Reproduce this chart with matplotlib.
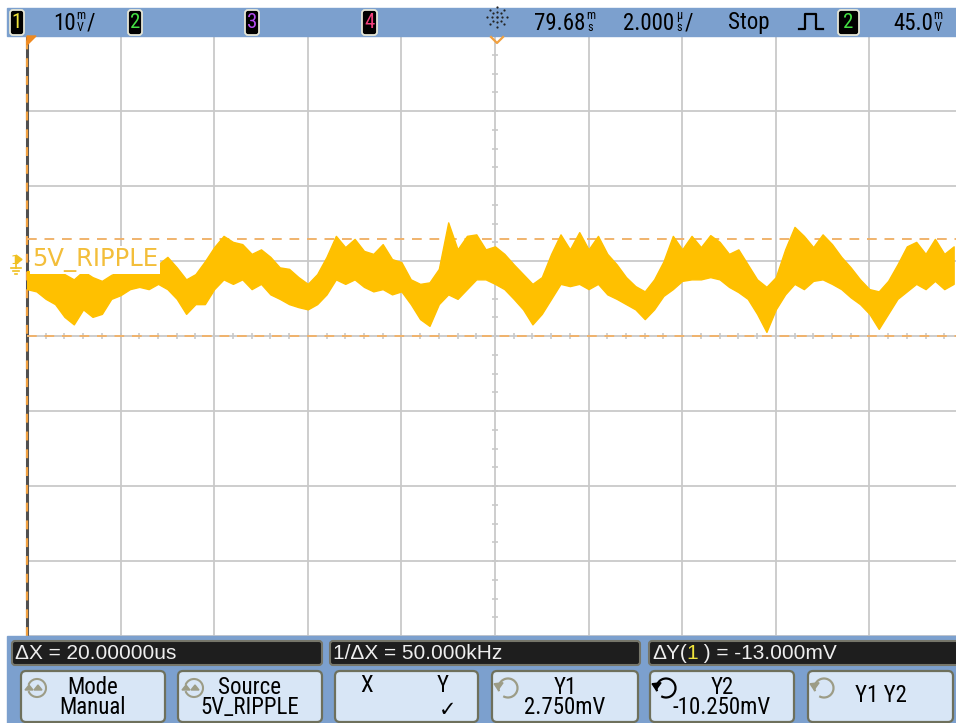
import numpy as np
import matplotlib
matplotlib.use("Agg")
import matplotlib.pyplot as plt
from matplotlib import patches
from matplotlib import font_manager as fm

# ------------------------------------------------------------------ data
# oscilloscope settings (as shown on screen)
volts_per_div_mV = 10.0
time_per_div_us = 2.0
offset_mV = -10.25            # level at screen centre
cursor_x1_us = -10.0
cursor_y1_mV = 2.75
cursor_y2_mV = -10.25

# trace envelope (upper / lower extent of the noisy ripple), one value every 0.2 us
trace_start_us = -10.0
trace_step_us = 0.2
trace_top_mV = [
    -1.6, -1.6, -2.0, -1.3, -2.0, -2.7, -1.6, -2.4, -2.9, -2.1,
    -1.6, -1.6, -1.6, -1.3, -0.7, 0.3, -1.1, -2.7, -2.0, -0.3,
    1.6, 3.1, 2.3, 2.0, 0.7, 1.3, 0.3, -1.1, -1.3, -2.4,
    -3.3, -2.0, 0.3, 3.1, 1.6, 2.7, 1.1, 0.7, 2.0, 0.0,
    -0.4, -2.7, -3.3, -3.1, -1.3, 4.9, 1.3, 3.1, 3.3, 1.3,
    1.7, 0.7, -0.7, -2.0, -3.3, -2.4, 0.7, 3.3, 1.3, 3.6,
    1.3, 3.1, 0.7, -0.7, -2.4, -3.6, -4.3, -2.7, -0.3, 3.1,
    1.3, 3.1, 1.6, 3.2, 2.3, 0.7, 1.3, -0.7, -2.7, -3.7,
    -2.4, 1.3, 4.3, 3.1, 1.6, 3.3, 2.0, 0.3, -1.1, -2.7,
    -4.0, -4.3, -2.9, -0.7, 1.7, 2.3, 0.7, 2.7, 0.7, 1.7,
]
trace_bottom_mV = [
    -4.0, -4.3, -5.3, -6.0, -7.7, -8.7, -6.7, -7.7, -7.3, -5.3,
    -4.8, -4.0, -3.7, -4.0, -3.3, -4.0, -5.3, -7.3, -6.0, -6.0,
    -4.0, -2.7, -3.3, -2.7, -4.0, -3.3, -4.7, -5.3, -6.0, -6.4,
    -6.7, -6.0, -4.7, -2.7, -3.3, -2.7, -3.7, -4.3, -4.0, -4.7,
    -4.3, -6.0, -8.0, -8.9, -6.0, -4.7, -5.3, -4.0, -2.7, -2.7,
    -3.3, -4.0, -5.3, -6.7, -8.7, -7.3, -5.3, -3.3, -3.6, -3.3,
    -4.0, -3.3, -4.7, -5.3, -6.0, -6.7, -8.0, -6.7, -4.9, -4.0,
    -2.9, -2.7, -2.7, -2.4, -2.7, -3.7, -4.4, -5.3, -7.3, -9.7,
    -6.7, -4.7, -3.3, -4.0, -2.9, -2.7, -3.3, -4.0, -5.1, -6.0,
    -7.3, -9.3, -7.3, -5.3, -4.3, -3.3, -4.0, -2.9, -4.0, -3.3,
]
time_us = trace_start_us + trace_step_us * np.arange(len(trace_top_mV))

channel_label = "5V_RIPPLE"
scale_text = "10"
delay_text = "79.68"
timebase_text = "2.000"
run_state = "Stop"
trigger_level_text = "45.0"
measure_dx = "\u0394X = 20.00000us"
measure_inv_dx = "1/\u0394X = 50.000kHz"
measure_dy_value = " ) = -13.000mV"
softkey_labels = [("Mode", "Manual"), ("Source", "5V_RIPPLE"), ("X", "Y"),
                  ("Y1", "2.750mV"), ("Y2", "-10.250mV"), ("Y1 Y2", "")]

# ------------------------------------------------------------------ fonts
avail = {f.name for f in fm.fontManager.ttflist}
def pick(*names, default="DejaVu Sans"):
    for n in names:
        if n in avail:
            return n
    return default

REG = pick("Liberation Sans", "Arial", "Roboto")
NAR = pick("Liberation Sans Narrow", "Arial Narrow", "Roboto Condensed", default=None)
ns = 1.0
if NAR is None:
    NAR = pick("Roboto", "Liberation Sans")
    ns = 0.86

# ------------------------------------------------------------------ figure
W, H = 956, 723
fig = plt.figure(figsize=(W / 100, H / 100), dpi=100)
fig.patch.set_facecolor("white")

BLUE = "#7CA0CE"
GRID = "#C9C9C9"
TRACE = "#FFC000"
CURSOR = "#F0B36C"

# scope graticule axes
ax = fig.add_axes([27 / W, 1 - 636 / H, 936 / W, 600 / H], zorder=1)
ax.set_xlim(-5 * time_per_div_us, 5 * time_per_div_us)
ax.set_ylim(offset_mV - 4 * volts_per_div_mV, offset_mV + 4 * volts_per_div_mV)
ax.axis("off")
for i in range(-5, 6):
    ax.axvline(i * time_per_div_us, color=GRID, lw=1.3, zorder=1, clip_on=False)
for j in range(-4, 5):
    ax.axhline(offset_mV + j * volts_per_div_mV, color=GRID, lw=1.3, zorder=1, clip_on=False)
mx = np.arange(-5 * time_per_div_us, 5 * time_per_div_us + 1e-9, time_per_div_us / 5)
ax.vlines(mx, offset_mV - 0.4, offset_mV + 0.4, color=GRID, lw=1.2, zorder=1)
my = offset_mV + np.arange(-4 * volts_per_div_mV, 4 * volts_per_div_mV + 1e-9, volts_per_div_mV / 4)
ax.hlines(my, -0.065, 0.065, color=GRID, lw=1.2, zorder=1)

# cursors
ax.axvline(cursor_x1_us, color="#505050", lw=2.2, zorder=2, clip_on=False)
ax.axvline(cursor_x1_us, color="#F0A040", lw=1.6, ls=(0, (4, 4)), zorder=3, clip_on=False)
ax.axhline(cursor_y1_mV, color=CURSOR, lw=1.4, ls=(0, (5, 4)), zorder=3)
ax.axhline(cursor_y2_mV, color=CURSOR, lw=1.4, ls=(0, (5, 4)), zorder=3)

# trace
ax.fill_between(time_us, trace_bottom_mV, trace_top_mV, color=TRACE, lw=1.0,
                ec=TRACE, zorder=4)

# ------------------------------------------------------------------ overlay (pixel coords)
ov = fig.add_axes([0, 0, 1, 1], zorder=5)
ov.set_xlim(0, W)
ov.set_ylim(H, 0)
ov.axis("off")
renderer = fig.canvas.get_renderer()

def txt(x, y, s, size, color="black", ha="left", va="center", family=None, **kw):
    return ov.text(x, y, s, fontsize=size, color=color, ha=ha, va=va,
                   family=family or NAR, **kw)

def chain(x, y, parts, size, family=None):
    for s, c in parts:
        t = txt(x, y, s, size, color=c, family=family)
        x += t.get_window_extent(renderer).width
    return x

def stacked(x, top, bot, size=8.8):
    txt(x, 21.5, top + "\n" + bot, size * ns, ha="center", linespacing=0.82,
        multialignment="center")

# top status bar
ov.add_patch(patches.Rectangle((7, 8), W - 7, 28, color=BLUE, zorder=0))
ov.add_patch(patches.Rectangle((7, 636), W - 7, H - 636, color=BLUE, zorder=0))

def chbox(x0, x1, digit, color):
    ov.add_patch(patches.FancyBboxPatch((x0, 10), x1 - x0, 25,
                 boxstyle="round,pad=0,rounding_size=3", fc="black",
                 ec="#E6E6D6", lw=1.3))
    txt((x0 + x1) / 2, 23, digit, 15 * ns, color=color, ha="center")

chbox(10, 24, "1", "#F0E43C")
chbox(128, 142, "2", "#44E044")
chbox(245, 259, "3", "#B44CF0")
chbox(362, 377, "4", "#F0407C")
chbox(838, 859, "2", "#44E044")

TB = 16.5 * ns
x = chain(53, 23, [(scale_text, "black")], TB)
stacked(x + 5, "m", "V")
txt(x + 11, 23, "/", TB)

x = chain(534, 23, [(delay_text, "black")], TB)
stacked(x + 5, "m", "s")
x = chain(623, 23, [(timebase_text, "black")], TB)
stacked(x + 5, "\u03bc", "s")
txt(x + 11, 23, "/", TB)
txt(728, 23, run_state, TB)
x = chain(893, 23, [(trigger_level_text, "black")], TB)
stacked(x + 5, "m", "V")

# run/stop "sun" icon
for ang in np.arange(0, 360, 45):
    a = np.deg2rad(ang)
    for r in (5, 10):
        ov.plot(497 + r * np.cos(a), 17 + r * np.sin(a), "o", ms=1.6, mew=0,
                color="#222222")
ov.plot(497, 17, "o", ms=1.8, mew=0, color="#222222")
# trigger edge icon
ov.plot([799, 805, 805, 816, 816, 823], [29, 29, 14, 14, 29, 29], color="black", lw=1.6)

# graticule markers
ov.add_patch(patches.Polygon([(27, 36), (36, 36), (27, 45)], color="#F08A20"))
ov.plot([491, 497, 503], [37, 43, 37], color="#F0A040", lw=1.6)

# ground reference marker and channel label
txt(10.5, 260, "1", 9.5, color="#F0C020", family="DejaVu Sans")
ov.add_patch(patches.Polygon([(16, 255), (22, 259.5), (16, 264)], color="#F0C020"))
ov.plot([16, 16], [262, 268], color="#F0C020", lw=1.2)
ov.plot([11, 21], [268, 268], color="#F0C020", lw=1.2)
ov.plot([13, 19], [271, 271], color="#F0C020", lw=1.2)
ov.plot([15, 17], [274, 274], color="#F0C020", lw=1.2)
txt(32, 260, channel_label, 17.5, color="#F3BE3A", family="DejaVu Sans",
    bbox=dict(fc="white", ec="none", pad=1.5))

# ------------------------------------------------------------------ measurement bars
def bar(x0, x1):
    ov.add_patch(patches.FancyBboxPatch((x0, 641), x1 - x0, 24,
                 boxstyle="round,pad=0,rounding_size=3", fc="#1E1E1E",
                 ec="#76766A", lw=1.5))

bar(12, 322)
bar(330, 640)
bar(649, 975)
MS = 15
WHITE = "#EEEEEE"
txt(15, 653.5, measure_dx, MS, color=WHITE, family=REG)
txt(333, 653.5, measure_inv_dx, MS, color=WHITE, family=REG)
chain(652, 653.5, [("\u0394Y(", WHITE), ("1", "#F0E43C"), (measure_dy_value, WHITE)],
      MS, family=REG)

# ------------------------------------------------------------------ softkeys
BTN_FC = "#D8E6F6"
BTN_EC = "#6E705C"
ICON = "#9C9C86"
buttons = [(21, 165, "cycle", ICON), (178, 322, "cycle", ICON), (335, 478, None, None),
           (492, 638, "rot", ICON), (650, 794, "rot", "black"), (808, 953, "rot", ICON)]
BS = 16.5 * ns
for (x0, x1, icon, icol), (l1, l2) in zip(buttons, softkey_labels):
    ov.add_patch(patches.FancyBboxPatch((x0, 671), x1 - x0, 51,
                 boxstyle="round,pad=0,rounding_size=5", fc=BTN_FC, ec=BTN_EC, lw=1.6))
    cx, cy = x0 + 16, 688
    if icon == "cycle":
        ov.add_patch(patches.Arc((cx, cy), 18, 18, theta1=200, theta2=520, color=icol, lw=1.5))
        ov.add_patch(patches.Polygon([(cx - 12, cy + 2), (cx - 8, cy - 3), (cx - 4, cy + 2)], color=icol))
        ov.add_patch(patches.Polygon([(cx - 3, cy + 2), (cx + 1, cy - 3), (cx + 5, cy + 2)], color=icol))
    elif icon == "rot":
        ov.add_patch(patches.Arc((cx, cy), 19, 19, theta1=-200, theta2=120, color=icol, lw=1.6))
        ax0 = cx + 9.5 * np.cos(np.deg2rad(160))
        ay0 = cy - 9.5 * np.sin(np.deg2rad(160))
        ov.add_patch(patches.Polygon([(ax0 - 5, ay0 - 1), (ax0 + 4, ay0 - 2), (ax0 - 1, ay0 + 5)], color=icol))
    mid = (x0 + x1) / 2
    if l1 == "X":
        txt(367, 686, "X", BS, ha="center")
        txt(443, 686, "Y", BS, ha="center")
        txt(448, 710, "\u2713", 15, ha="center", family="DejaVu Sans")
    elif l2 == "":
        txt(mid, 695, l1, BS, ha="center")
    else:
        txt(mid, 687, l1, BS, ha="center")
        txt(mid, 708, l2, BS, ha="center")

fig.savefig("out.png", dpi=100, facecolor=fig.get_facecolor())
